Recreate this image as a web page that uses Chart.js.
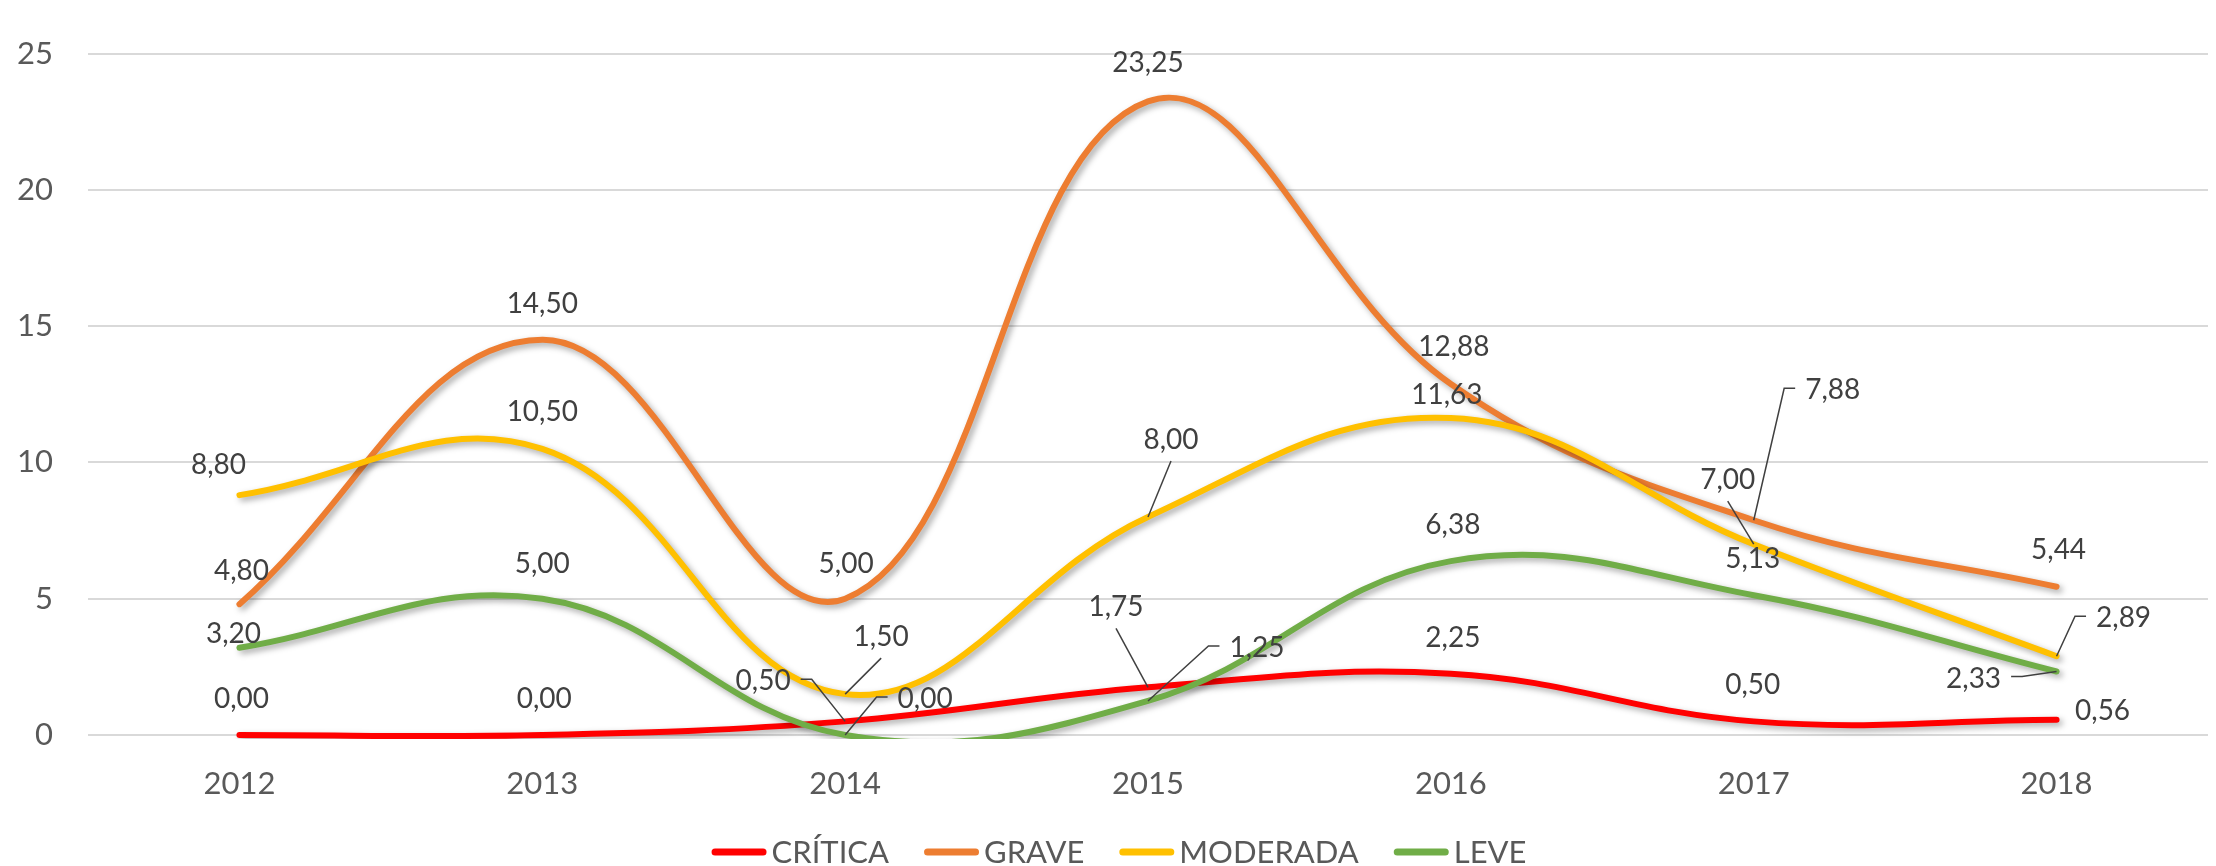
<!DOCTYPE html>
<html><head><meta charset="utf-8">
<script src="https://cdn.jsdelivr.net/npm/chart.js@4.4.1/dist/chart.umd.min.js"></script>
<style>html,body{margin:0;padding:0;background:#fff}#wrap{width:2216px;height:866px}</style>
</head><body><div id="wrap"><canvas id="c" width="2216" height="866"></canvas></div>
<script>
// ---- data ----
const categories = ['2012', '2013', '2014', '2015', '2016', '2017', '2018'];
const critica  = [0.00, 0.00, 0.50, 1.75, 2.25, 0.50, 0.56];
const grave    = [4.80, 14.50, 5.00, 23.25, 12.88, 7.88, 5.44];
const moderada = [8.80, 10.50, 1.50, 8.00, 11.63, 7.00, 2.89];
const leve     = [3.20, 5.00, 0.00, 1.25, 6.38, 5.13, 2.33];
const seriesNames = ['CRÍTICA', 'GRAVE', 'MODERADA', 'LEVE'];
const yTicks = [0, 5, 10, 15, 20, 25];

// ---- styling ----
const colors = ['#FF0000', '#ED7D31', '#FFC000', '#70AD47'];
const FONT = 'Lato, "Open Sans", sans-serif';
const TEXT = '#595959';
const LABEL = '#404040';
// data label placement: [dx, dy, leader] relative to point (label centre); leader: '', 'side', 'below'
const labelPlace = [
  [[2,-36,''],[2,-36,''],[-82,-40,'side'],[-32,-80,'below'],[2,-36,''],[-1,-36,''],[46,-9,'']],
  [[2,-33,''],[0,-36,''],[1,-35,''],[0,-38,''],[3,-37,''],[79,-130,'side'],[2,-37,'']],
  [[-21,-30,''],[0,-37,''],[36,-57,'below'],[23,-77,'below'],[-4,-23,''],[-26,-64,'below'],[67,-38,'side']],
  [[-6,-14,''],[0,-35,''],[80,-36,'side'],[109,-53,'side'],[2,-36,''],[-1,-36,''],[-83,7,'side']]
];
const fmt = v => v.toFixed(2).replace('.', ',');

const shadowPlugin = {
  id: 'shadow',
  beforeDatasetDraw(chart) {
    const ctx = chart.ctx;
    ctx.save();
    ctx.shadowColor = 'rgba(0,0,0,0.35)';
    ctx.shadowBlur = 6;
    ctx.shadowOffsetX = 3;
    ctx.shadowOffsetY = 3;
  },
  afterDatasetDraw(chart) { chart.ctx.restore(); }
};

const labelPlugin = {
  id: 'labels',
  afterDatasetsDraw(chart) {
    const ctx = chart.ctx;
    ctx.save();
    ctx.font = '28px ' + FONT;
    chart.data.datasets.forEach((ds, i) => {
      const meta = chart.getDatasetMeta(i);
      meta.data.forEach((el, j) => {
        const [dx, dy, lead] = labelPlace[i][j];
        const cx = el.x + dx, cy = el.y + dy;
        const txt = fmt(ds.data[j]);
        const w = ctx.measureText(txt).width;
        if (lead) {
          ctx.strokeStyle = '#404040';
          ctx.lineWidth = 1.5;
          ctx.beginPath();
          if (lead === 'below') {
            ctx.moveTo(cx, cy + 21);
            ctx.lineTo(el.x, el.y);
          } else {
            const sgn = dx > 0 ? -1 : 1;
            const edge = cx + sgn * (w / 2 + 10);
            ctx.moveTo(edge, cy - 2);
            ctx.lineTo(edge + sgn * 11, cy - 2);
            ctx.lineTo(el.x, el.y);
          }
          ctx.stroke();
        }
        ctx.fillStyle = LABEL;
        ctx.textAlign = 'center';
        ctx.textBaseline = 'middle';
        ctx.fillText(txt, cx, cy);
      });
    });
    ctx.restore();
  },
  afterDraw(chart) {
    const ctx = chart.ctx;
    ctx.save();
    ctx.font = '31px ' + FONT;
    const lineLen = 55, gapTxt = 5, gapItem = 35;
    const widths = seriesNames.map(n => ctx.measureText(n).width);
    const total = widths.reduce((a, w) => a + lineLen + gapTxt + w, 0) + gapItem * (seriesNames.length - 1);
    let x = 1119 - total / 2;
    const y = 852;
    seriesNames.forEach((n, i) => {
      ctx.strokeStyle = colors[i];
      ctx.lineWidth = 7;
      ctx.lineCap = 'round';
      ctx.beginPath();
      ctx.moveTo(x + 3.5, y);
      ctx.lineTo(x + lineLen - 3.5, y);
      ctx.stroke();
      ctx.fillStyle = TEXT;
      ctx.textAlign = 'left';
      ctx.textBaseline = 'alphabetic';
      ctx.fillText(n, x + lineLen + gapTxt, y + 11);
      x += lineLen + gapTxt + widths[i] + gapItem;
    });
    ctx.restore();
  }
};

const seriesData = [critica, grave, moderada, leve];
new Chart(document.getElementById('c'), {
  type: 'line',
  data: {
    labels: categories,
    datasets: seriesData.map((d, i) => ({
      label: seriesNames[i],
      data: d,
      borderColor: colors[i],
      backgroundColor: colors[i],
      order: seriesData.length - 1 - i,
      clip: { left: 6, right: 6, top: 6, bottom: 4 }
    }))
  },
  options: {
    responsive: false,
    animation: false,
    devicePixelRatio: 1,
    layout: { padding: { left: 0, right: 8, top: 25, bottom: 0 } },
    plugins: { legend: { display: false }, tooltip: { enabled: false } },
    elements: {
      line: { tension: 0.4, borderWidth: 6, capBezierPoints: false, borderCapStyle: 'round', borderJoinStyle: 'round', fill: false },
      point: { radius: 0, hoverRadius: 0 }
    },
    scales: {
      x: {
        offset: true,
        grid: { display: false, drawTicks: false },
        border: { display: false },
        ticks: { font: { family: FONT, size: 31 }, color: TEXT, padding: 30, maxRotation: 0 },
        afterFit(s) { s.height = 131; }
      },
      y: {
        min: 0, max: 25,
        afterBuildTicks(s) { s.ticks = yTicks.map(v => ({ value: v })); },
        grid: { color: '#D9D9D9', lineWidth: 2, drawTicks: false },
        border: { display: false },
        ticks: { font: { family: FONT, size: 31 }, color: TEXT, padding: 35 },
        afterFit(s) { s.width = 88; }
      }
    }
  },
  plugins: [shadowPlugin, labelPlugin]
});
</script>
</body></html>
